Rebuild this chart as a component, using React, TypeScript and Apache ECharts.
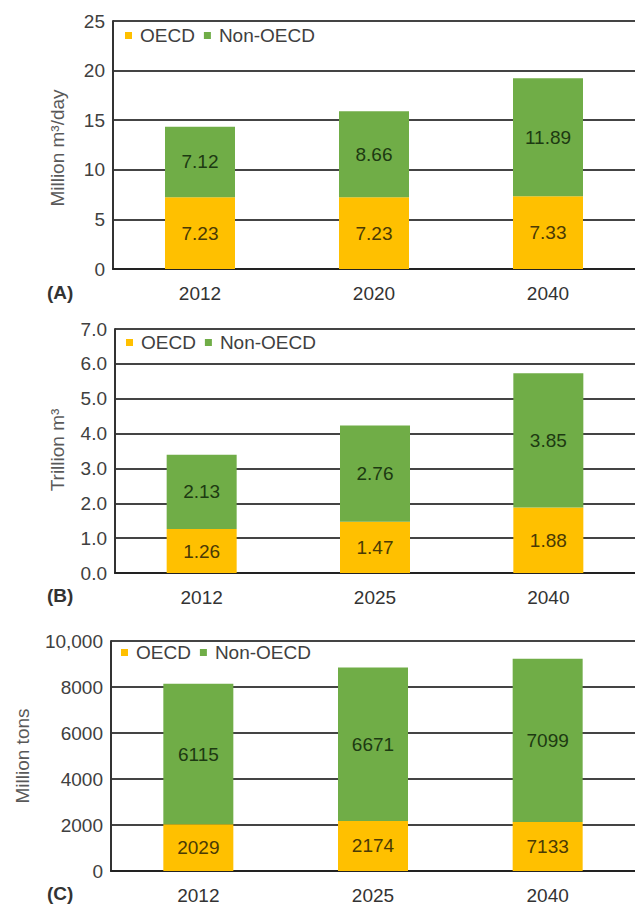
import React, { useEffect, useRef } from "react";
import * as echarts from "echarts";

const CATS_A = ["2012", "2020", "2040"];
const OECD_A = [7.23, 7.23, 7.33];
const NON_OECD_A = [7.12, 8.66, 11.89];

const CATS_B = ["2012", "2025", "2040"];
const OECD_B = [1.26, 1.47, 1.88];
const NON_OECD_B = [2.13, 2.76, 3.85];

const CATS_C = ["2012", "2025", "2040"];
const OECD_C = [2029, 2174, 2133];
const NON_OECD_C = [6115, 6671, 7099];
// labels as printed in the source figure
const OECD_C_LABELS = ["2029", "2174", "7133"];
const NON_OECD_C_LABELS = ["6115", "6671", "7099"];

const YELLOW = "#FFC000";
const GREEN = "#70AD47";
const FONT = "'Liberation Sans', Arial, sans-serif";

export default function App() {
  const ref = useRef<HTMLDivElement>(null);
  useEffect(() => {
    if (!ref.current) return;
    const chart = echarts.init(ref.current, undefined, { renderer: "svg" });

    const grids = [
      { left: 113, right: -12, top: 21, bottom: 905 - 269 },
      { left: 115, right: -14, top: 329, bottom: 905 - 573 },
      { left: 111, right: -10, top: 641, bottom: 905 - 871 },
    ];
    const cats = [CATS_A, CATS_B, CATS_C];
    const yCfg = [
      { min: 0, max: 25, interval: 5, fmt: (v: number) => String(v) },
      { min: 0, max: 7, interval: 1, fmt: (v: number) => v.toFixed(1) },
      {
        min: 0,
        max: 10000,
        interval: 2000,
        fmt: (v: number) => (v === 10000 ? "10,000" : String(v)),
      },
    ];
    const oecd = [OECD_A, OECD_B, OECD_C];
    const non = [NON_OECD_A, NON_OECD_B, NON_OECD_C];
    const oecdLabels = [
      OECD_A.map((v) => v.toFixed(2)),
      OECD_B.map((v) => v.toFixed(2)),
      OECD_C_LABELS,
    ];
    const nonLabels = [
      NON_OECD_A.map((v) => v.toFixed(2)),
      NON_OECD_B.map((v) => v.toFixed(2)),
      NON_OECD_C_LABELS,
    ];

    const series: any[] = [];
    for (let i = 0; i < 3; i++) {
      series.push({
        name: "OECD",
        type: "bar",
        stack: "s" + i,
        xAxisIndex: i,
        yAxisIndex: i,
        barWidth: 70,
        itemStyle: { color: YELLOW },
        label: {
          show: true,
          position: "inside",
          fontSize: 19,
          fontFamily: FONT,
          color: "#4a3a05",
          formatter: (p: any) => oecdLabels[i][p.dataIndex],
        },
        data: oecd[i],
      });
      series.push({
        name: "Non-OECD",
        type: "bar",
        stack: "s" + i,
        xAxisIndex: i,
        yAxisIndex: i,
        barWidth: 70,
        itemStyle: { color: GREEN },
        label: {
          show: true,
          position: "inside",
          fontSize: 19,
          fontFamily: FONT,
          color: "#1d3a12",
          formatter: (p: any) => nonLabels[i][p.dataIndex],
        },
        data: non[i],
      });
    }

    const legendPos = [
      { left: 125, top: 26 },
      { left: 126, top: 333 },
      { left: 121, top: 643 },
    ];

    const panelLabels = [
      { t: "(A)", y: 294 },
      { t: "(B)", y: 597 },
      { t: "(C)", y: 895 },
    ];
    const axisNames = [
      { t: "Million m³/day", x: 57, y: 148 },
      { t: "Trillion m³", x: 57, y: 450 },
      { t: "Million tons", x: 22, y: 756 },
    ];

    chart.setOption({
      animation: false,
      textStyle: { fontFamily: FONT },
      grid: grids,
      legend: legendPos.map((p) => ({
        ...p,
        data: ["OECD", "Non-OECD"],
        icon: "rect",
        itemWidth: 7,
        itemHeight: 7,
        itemGap: 9,
        padding: 0,
        selectedMode: false,
        textStyle: {
          fontSize: 19,
          fontFamily: FONT,
          color: "#404040",
          padding: [0, 0, 0, 3],
        },
      })),
      xAxis: cats.map((c, i) => ({
        type: "category",
        gridIndex: i,
        data: c,
        axisLine: { show: true, lineStyle: { color: "#222", width: 2 } },
        axisTick: { show: false },
        axisLabel: {
          fontSize: 19,
          fontFamily: FONT,
          color: "#333",
          margin: 15,
        },
      })),
      yAxis: yCfg.map((y, i) => ({
        type: "value",
        gridIndex: i,
        min: y.min,
        max: y.max,
        interval: y.interval,
        axisLine: { show: true, lineStyle: { color: "#333", width: 2 } },
        axisTick: { show: false },
        splitLine: { show: true, lineStyle: { color: "#444", width: 2 } },
        axisLabel: {
          fontSize: 19,
          fontFamily: FONT,
          color: "#404040",
          margin: 8,
          formatter: y.fmt,
        },
      })),
      graphic: [
        ...panelLabels.map((p) => ({
          type: "text",
          left: 47,
          top: p.y - 11,
          style: {
            text: p.t,
            fontSize: 19,
            fontWeight: "bold",
            fontFamily: FONT,
            fill: "#333",
          },
        })),
        ...axisNames.map((a) => ({
          type: "text",
          x: a.x,
          y: a.y,
          rotation: Math.PI / 2,
          style: {
            text: a.t,
            fontSize: 19,
            fontFamily: FONT,
            fill: "#595959",
            align: "center",
            verticalAlign: "middle",
          },
        })),
      ],
      series,
    });
    return () => chart.dispose();
  }, []);

  return (
    <div
      ref={ref}
      style={{ position: "absolute", left: 0, top: 0, width: 635, height: 905, background: "#fff" }}
    />
  );
}
